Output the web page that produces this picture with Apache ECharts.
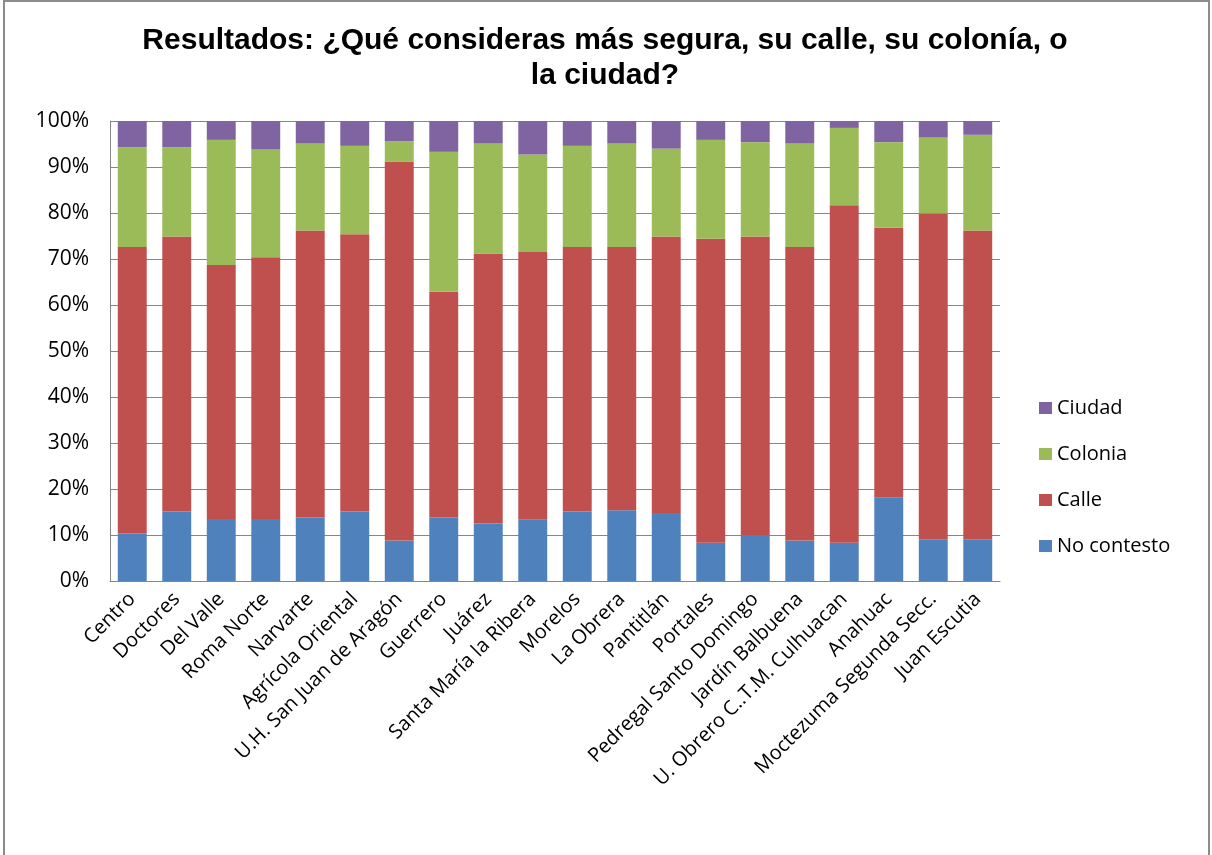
<!DOCTYPE html>
<html>
<head>
<meta charset="utf-8">
<script src="https://cdn.jsdelivr.net/npm/echarts@6/dist/echarts.min.js"></script>
<style>
  html, body { margin: 0; padding: 0; background: #ffffff; }
  #chart { width: 1212px; height: 855px; }
</style>
</head>
<body>
<div id="chart"></div>
<script>
// Neighbourhoods surveyed
const categories = [
  'Centro', 'Doctores', 'Del Valle', 'Roma Norte', 'Narvarte',
  'Agrícola Oriental', 'U.H. San Juan de Aragón', 'Guerrero', 'Juárez',
  'Santa María la Ribera', 'Morelos', 'La Obrera', 'Pantitlán', 'Portales',
  'Pedregal Santo Domingo', 'Jardín Balbuena', 'U. Obrero C..T.M. Culhuacan',
  'Anahuac', 'Moctezuma Segunda Secc.', 'Juan Escutia'
];

// Share of answers (%) per neighbourhood
const noContesto = [10.3, 15.1, 13.5, 13.5, 13.8, 15.1, 8.8, 13.8, 12.5, 13.3, 15.1, 15.4, 14.8, 8.3, 9.9, 8.8, 8.3, 18.2, 9.1, 9.1];
const calle      = [62.3, 59.8, 55.2, 56.9, 62.4, 60.3, 82.4, 49.1, 58.7, 58.2, 57.5, 57.2, 60.1, 66.1, 65.0, 63.8, 73.4, 58.6, 70.8, 67.1];
const colonia    = [21.7, 19.4, 27.2, 23.4, 18.9, 19.2, 4.4, 30.4, 23.9, 21.2, 22.0, 22.5, 19.1, 21.5, 20.5, 22.5, 16.8, 18.6, 16.5, 20.8];
const ciudad     = [5.7, 5.7, 4.1, 6.2, 4.9, 5.4, 4.4, 6.7, 4.9, 7.3, 5.4, 4.9, 6.0, 4.1, 4.6, 4.9, 1.5, 4.6, 3.6, 3.0];

// Y axis ticks
const yTicks = { min: 0, max: 100, interval: 10 };

const seriesDefs = [
  { name: 'No contesto', data: noContesto, color: '#4F81BD' },
  { name: 'Calle',       data: calle,      color: '#C0504D' },
  { name: 'Colonia',     data: colonia,    color: '#9BBB59' },
  { name: 'Ciudad',      data: ciudad,     color: '#8064A2' }
];

const FONT = '"Open Sans", sans-serif';
const GRID_COLOR = '#868686';

const chart = echarts.init(document.getElementById('chart'), null, { renderer: 'canvas' });

chart.setOption({
  animation: false,
  backgroundColor: '#ffffff',
  title: {
    text: 'Resultados: ¿Qué consideras más segura, su calle, su colonía, o\nla ciudad?',
    left: 605,
    textAlign: 'center',
    top: 23,
    padding: 0,
    textStyle: {
      fontFamily: '"Liberation Sans", Arial, sans-serif',
      fontSize: 30,
      fontWeight: 'bold',
      color: '#000000',
      lineHeight: 35
    }
  },
  legend: {
    orient: 'vertical',
    left: 1039,
    top: 398,
    padding: 0,
    itemWidth: 13,
    itemHeight: 12,
    itemGap: 26,
    icon: 'rect',
    data: ['Ciudad', 'Colonia', 'Calle', 'No contesto'],
    textStyle: {
      fontFamily: FONT,
      fontSize: 20,
      lineHeight: 20,
      color: '#000000'
    }
  },
  graphic: [{
    type: 'rect',
    shape: { x: 4, y: 1, width: 1205, height: 880 },
    style: { fill: 'none', stroke: '#8c8c8c', lineWidth: 2 },
    silent: true,
    z: 100
  }],
  grid: {
    left: 110,
    right: 212,
    top: 121,
    height: 460,
    containLabel: false
  },
  xAxis: {
    type: 'category',
    data: categories,
    axisLine: { show: true, lineStyle: { color: GRID_COLOR, width: 1 } },
    axisTick: { show: false },
    axisLabel: {
      interval: 0,
      rotate: 45,
      margin: 15,
      fontFamily: FONT,
      fontSize: 20,
      color: '#000000'
    }
  },
  yAxis: {
    type: 'value',
    min: yTicks.min,
    max: yTicks.max,
    interval: yTicks.interval,
    axisLine: { show: true, lineStyle: { color: GRID_COLOR, width: 1 } },
    axisTick: { show: false },
    splitLine: { show: true, lineStyle: { color: GRID_COLOR, width: 1 } },
    axisLabel: {
      formatter: '{value}%',
      margin: 21,
      fontFamily: FONT,
      fontSize: 21,
      color: '#000000'
    }
  },
  series: seriesDefs.map(s => ({
    name: s.name,
    type: 'bar',
    stack: 'total',
    data: s.data,
    barCategoryGap: '35%',
    itemStyle: { color: s.color },
    emphasis: { disabled: true }
  }))
});
</script>
</body>
</html>
